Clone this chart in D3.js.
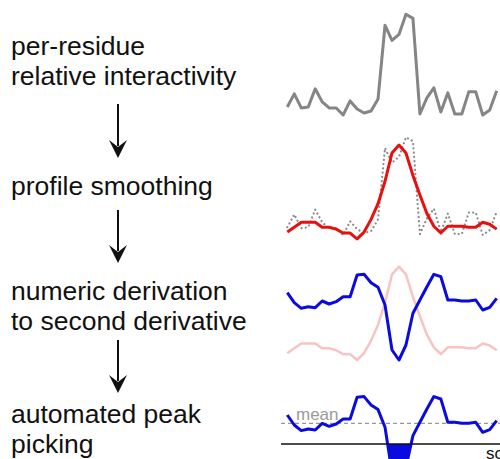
<!DOCTYPE html>
<html>
<head>
<meta charset="utf-8">
<script src="https://cdn.jsdelivr.net/npm/d3@7"></script>
<style>
  body { margin: 0; background: #fff; }
  svg { display: block; font-family: "Liberation Sans", Arial, sans-serif; }
</style>
</head>
<body>
<svg id="chart" width="500" height="459"></svg>
<script>
// residue index 1..31
const residues = d3.range(1, 32);

// per-residue relative interactivity (0..1)
const rawProfile = [0.08, 0.21, 0.07, 0.08, 0.26, 0.13, 0.07, 0.07, 0.00, 0.14,
  0.06, 0.02, 0.04, 0.16, 0.89, 0.74, 0.80, 1.00, 0.96, 0.01,
  0.17, 0.27, 0.03, 0.22, 0.01, 0.01, 0.23, 0.23, 0.00, 0.05, 0.24];

// smoothed profile, same units
const smoothProfile = [0.03, 0.08, 0.13, 0.13, 0.13, 0.08, 0.08, 0.06, 0.02, 0.02,
  -0.04, 0.03, 0.16, 0.32, 0.55, 0.84, 0.92, 0.84, 0.61, 0.41,
  0.22, 0.09, 0.02, 0.09, 0.09, 0.09, 0.08, 0.08, 0.13, 0.11, 0.06];

// (negative) second derivative score
const secondDeriv = [2.90, 1.90, 1.34, 1.50, 1.40, 2.07, 1.77, 2.00, 2.50, 2.50,
  4.67, 4.74, 3.90, 3.44, 1.67, -2.83, -3.83, -2.33, 0.84, 2.17,
  3.50, 4.74, 4.50, 2.17, 2.17, 2.07, 2.07, 2.17, 1.17, 1.44, 2.34];
const meanScore = 2.07;

const stepLabels = [
  { lines: ["per-residue", "relative interactivity"], y: 55 },
  { lines: ["profile smoothing"], y: 195 },
  { lines: ["numeric derivation", "to second derivative"], y: 300 },
  { lines: ["automated peak", "picking"], y: 423 }
];
const arrows = [[104, 158], [210, 263], [340, 393]];

const svg = d3.select("#chart");

// left: step labels and arrows
stepLabels.forEach((step) => {
  step.lines.forEach((line, i) => {
    svg.append("text")
      .attr("x", 11)
      .attr("y", step.y + i * 30)
      .attr("font-size", 26.5)
      .attr("fill", "#111")
      .text(line);
  });
});

arrows.forEach(([y0, y1]) => {
  svg.append("line")
    .attr("x1", 118).attr("x2", 118)
    .attr("y1", y0).attr("y2", y1 - 12)
    .attr("stroke", "#111").attr("stroke-width", 2);
  svg.append("path")
    .attr("d", `M109,${y1 - 18} L118,${y1 - 11} L127,${y1 - 18} L118,${y1} Z`)
    .attr("fill", "#111");
});

// right: profiles
const x = d3.scaleLinear().domain([1, 31]).range([287.3, 496.7]);
const y1 = d3.scaleLinear().domain([0, 1]).range([115, 14.3]);
const y2 = d3.scaleLinear().domain([0, 1]).range([235, 137.3]);
const y3pink = d3.scaleLinear().domain([0, 1]).range([356.1, 258.9]);
const y3 = d3.scaleLinear().domain([0, 5]).range([321.7, 271.7]);
const y4 = d3.scaleLinear().domain([0, 5]).range([444, 394]);

function drawLine(values, yScale, color, width, dash) {
  const line = d3.line()
    .x((d, i) => x(residues[i]))
    .y((d) => yScale(d));
  const path = svg.append("path")
    .datum(values)
    .attr("d", line)
    .attr("fill", "none")
    .attr("stroke", color)
    .attr("stroke-width", width)
    .attr("stroke-linejoin", "round");
  if (dash) path.attr("stroke-dasharray", dash).attr("stroke-linecap", "round");
  return path;
}

// panel 1
drawLine(rawProfile, y1, "#858585", 3);

// panel 2
drawLine(rawProfile, y2, "#8a8a8a", 2.2, "0.1,4.2");
drawLine(smoothProfile, y2, "#e8100c", 3);

// panel 3
drawLine(smoothProfile, y3pink, "#f9c3c3", 2.5);
drawLine(secondDeriv, y3, "#0b0be0", 3);

// panel 4
svg.append("defs").append("clipPath").attr("id", "below")
  .append("rect")
  .attr("x", 280).attr("y", y4(0))
  .attr("width", 220).attr("height", 459 - y4(0));

const area = d3.area()
  .x((d, i) => x(residues[i]))
  .y0(y4(0))
  .y1((d) => y4(d));
svg.append("path")
  .datum(secondDeriv)
  .attr("d", area)
  .attr("fill", "#0b0be0")
  .attr("clip-path", "url(#below)");

svg.append("line")
  .attr("x1", 281).attr("x2", 500)
  .attr("y1", y4(meanScore)).attr("y2", y4(meanScore))
  .attr("stroke", "#999").attr("stroke-width", 1.3)
  .attr("stroke-dasharray", "4,3");

drawLine(secondDeriv, y4, "#0b0be0", 3);

svg.append("line")
  .attr("x1", 281).attr("x2", 500)
  .attr("y1", y4(0)).attr("y2", y4(0))
  .attr("stroke", "#111").attr("stroke-width", 1.5);

svg.append("text")
  .attr("x", 296).attr("y", 419.5)
  .attr("font-size", 17)
  .attr("fill", "#999")
  .text("mean");

svg.append("text")
  .attr("x", 486).attr("y", 459)
  .attr("font-size", 17)
  .attr("fill", "#111")
  .text("score");
</script>
</body>
</html>
